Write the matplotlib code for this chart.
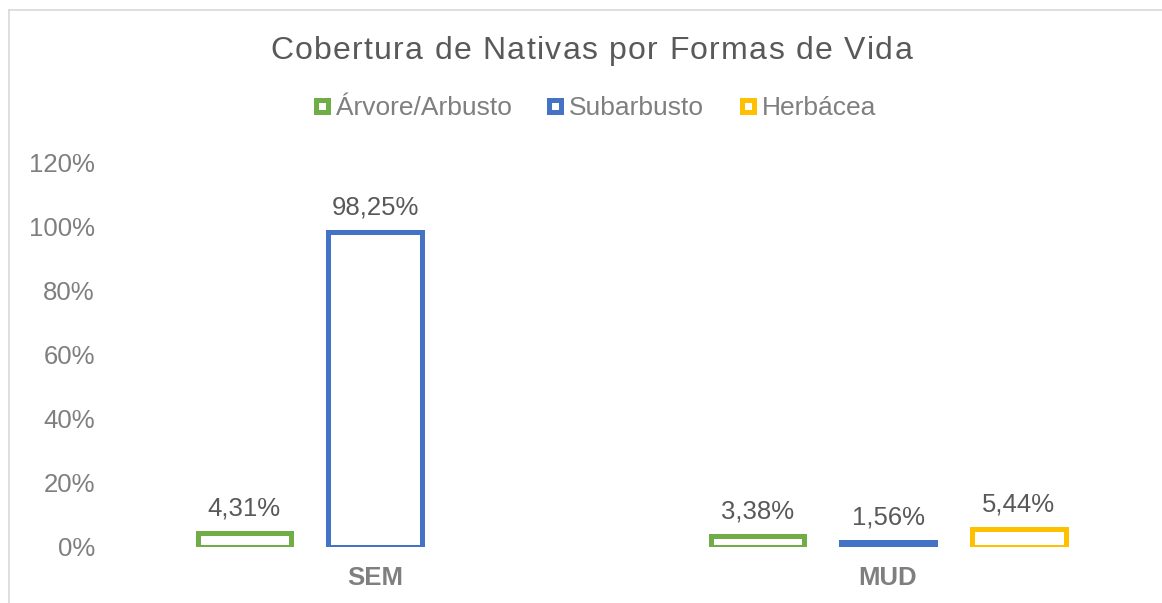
import numpy as np
import matplotlib
matplotlib.use('Agg')
import matplotlib.pyplot as plt
from matplotlib.lines import Line2D
from matplotlib.font_manager import FontProperties

plt.rcParams['font.family'] = ['Liberation Sans', 'DejaVu Sans']

# data
categories = ['SEM', 'MUD']
series = ['Árvore/Arbusto', 'Subarbusto', 'Herbácea']
values = {
    'Árvore/Arbusto': [4.31, 3.38],
    'Subarbusto': [98.25, 1.56],
    'Herbácea': [np.nan, 5.44],
}
colors = ['#70AD47', '#4472C4', '#FFC000']
title = 'Cobertura de Nativas por Formas de Vida'
yticks = [0, 20, 40, 60, 80, 100, 120]

W, H = 1162, 603
fig = plt.figure(figsize=(W / 100, H / 100), dpi=100)
ax = fig.add_axes([0.102, 0.093, 0.883, 0.638])

x = np.arange(len(categories))
width = 0.182
offsets = [-0.255, 0, 0.255]

for s, col, off in zip(series, colors, offsets):
    vals = np.array(values[s], dtype=float)
    ok = ~np.isnan(vals)
    ax.bar(x[ok] + off, vals[ok], width, facecolor='white', edgecolor=col,
           linewidth=3.6)
    for xi, v in zip(x[ok] + off, vals[ok]):
        ax.annotate(f'{v:.2f}%'.replace('.', ','), (xi, v),
                    xytext=(0, 9), textcoords='offset points',
                    ha='center', va='bottom', fontsize=18.5, color='#595959')

ax.set_xlim(-0.5, 1.5)
ax.set_ylim(0, 120)
ax.set_yticks(yticks)
ax.set_yticklabels([f'{t}%' for t in yticks], fontsize=18.5, color='#7f7f7f')
ax.set_xticks(x)
ax.set_xticklabels(categories, fontsize=18.5, color='#7f7f7f', fontweight='bold')
ax.tick_params(axis='y', length=0, pad=17)
ax.tick_params(axis='x', length=0, pad=14)
for sp in ax.spines.values():
    sp.set_visible(False)

# title with a little letter spacing, like the Excel one
fp = FontProperties(family=['Liberation Sans', 'DejaVu Sans'], size=23)
renderer = fig.canvas.get_renderer()
cw = [renderer.get_text_width_height_descent(ch, fp, ismath=False)[0]
      for ch in title]
target = 642
spacing = max(0.0, (target - sum(cw)) / (len(title) - 1))
total = sum(cw) + spacing * (len(title) - 1)
xpos = 591 - total / 2
for ch, w in zip(title, cw):
    fig.text(xpos / W, 1 - 51 / H, ch, ha='left', va='center',
             fontproperties=fp, color='#595959')
    xpos += w + spacing

handles = [Line2D([], [], linestyle='none', marker='s', markersize=8.5,
                  markerfacecolor='white', markeredgecolor=c,
                  markeredgewidth=3.6) for c in colors]
fig.legend(handles, series, loc='center', bbox_to_anchor=(0.511, 0.821),
           ncol=3, frameon=False, fontsize=19, labelcolor='#7f7f7f',
           handlelength=0.8, handletextpad=0.12, columnspacing=1.27)

# outer border of the chart area
fig.add_artist(Line2D([8.5 / W, 8.5 / W], [0, 1 - 9.5 / H],
                      transform=fig.transFigure, color='#D9D9D9', lw=1.2))
fig.add_artist(Line2D([8.5 / W, 1], [1 - 9.5 / H, 1 - 9.5 / H],
                      transform=fig.transFigure, color='#D9D9D9', lw=1.2))

fig.savefig('out.png', dpi=100)
